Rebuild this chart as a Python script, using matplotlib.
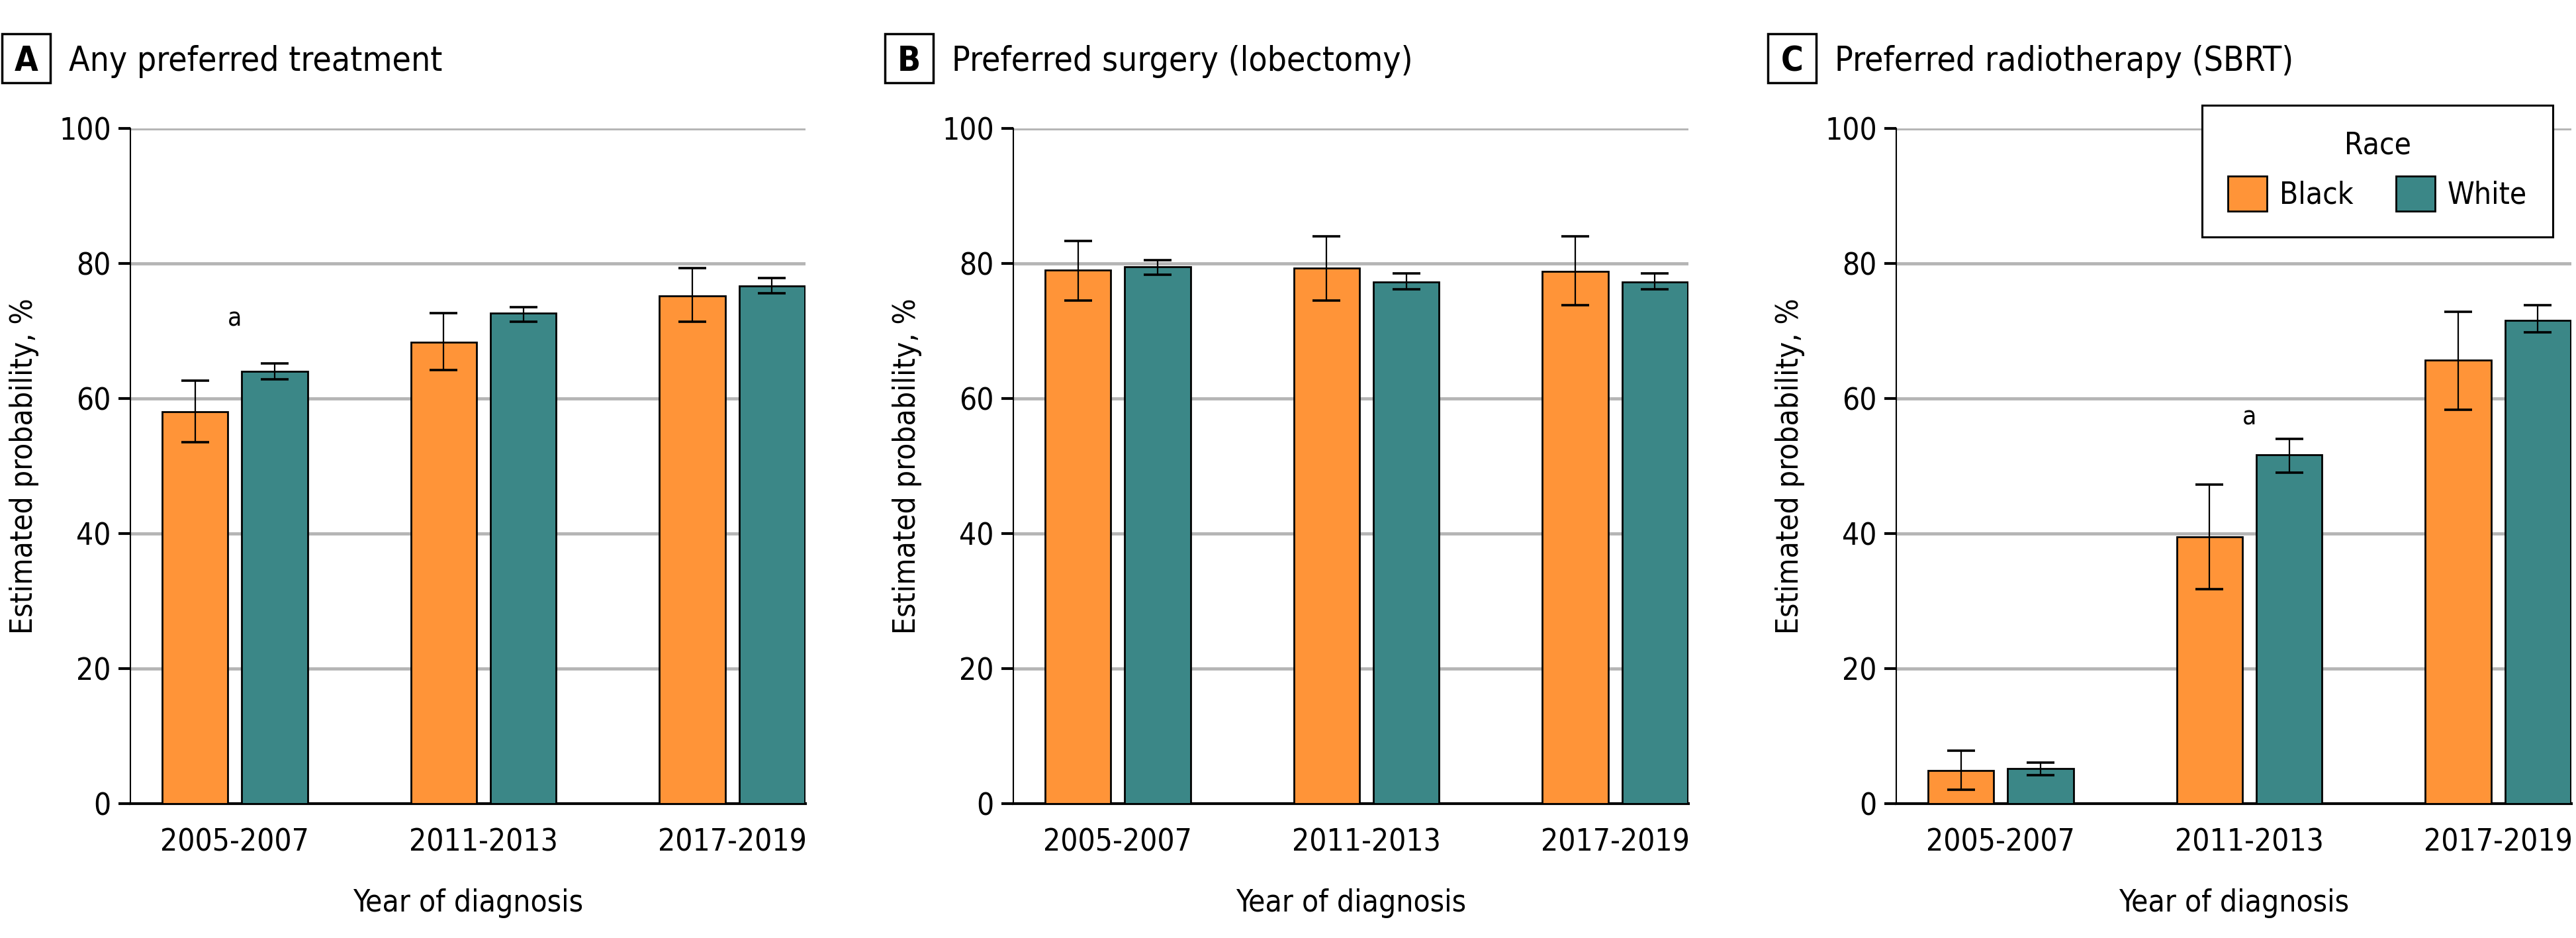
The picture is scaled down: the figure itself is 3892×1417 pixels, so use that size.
import matplotlib.pyplot as plt
from matplotlib.patches import Patch, Rectangle
import numpy as np

plt.rcParams['font.family'] = ['DejaVu Sans']
plt.rcParams['font.stretch'] = 'condensed'

periods = ['2005-2007', '2011-2013', '2017-2019']
letters = ['A', 'B', 'C']
titles = ['Any preferred treatment', 'Preferred surgery (lobectomy)', 'Preferred radiotherapy (SBRT)']

# estimated probability (%) and 95% CI, per panel
black_val = [[58.0, 68.3, 75.2], [79.0, 79.3, 78.8], [4.9, 39.5, 65.7]]
black_lo = [[53.5, 64.2, 71.4], [74.5, 74.5, 73.8], [2.1, 31.8, 58.3]]
black_hi = [[62.6, 72.6, 79.3], [83.3, 84.0, 84.0], [7.8, 47.3, 72.8]]
white_val = [[64.0, 72.6, 76.7], [79.5, 77.3, 77.3], [5.2, 51.7, 71.6]]
white_lo = [[62.8, 71.4, 75.6], [78.3, 76.2, 76.2], [4.2, 49.0, 69.8]]
white_hi = [[65.2, 73.5, 77.8], [80.5, 78.5, 78.5], [6.1, 54.0, 73.8]]

# significance markers: (panel, period index, y)
marks = [(0, 0, 71.8), (2, 1, 57.2)]

orange = '#FF9438'
teal = '#3B8787'

fig = plt.figure(figsize=(38.92, 14.17), dpi=100)
W, H = 3892, 1417
lefts = [197, 1531, 2865]
ax_w = 1020
ax_bottom, ax_top = 1214, 194

fs = 33
x = np.arange(len(periods))
bw = 0.265
off = 0.16

axes = []
for i in range(3):
    ax = fig.add_axes([lefts[i] / W, 1 - ax_bottom / H, ax_w / W, (ax_bottom - ax_top) / H])
    axes.append(ax)
    bv = np.array(black_val[i])
    wv = np.array(white_val[i])
    ax.bar(x - off, bv, bw, color=orange, edgecolor='black', linewidth=2, zorder=3)
    ax.bar(x + off, wv, bw, color=teal, edgecolor='black', linewidth=2, zorder=3)
    ax.errorbar(x - off, bv, yerr=[bv - np.array(black_lo[i]), np.array(black_hi[i]) - bv],
                fmt='none', ecolor='black', elinewidth=1.6, capsize=15, capthick=2.6, zorder=4)
    ax.errorbar(x + off, wv, yerr=[wv - np.array(white_lo[i]), np.array(white_hi[i]) - wv],
                fmt='none', ecolor='black', elinewidth=1.6, capsize=15, capthick=2.6, zorder=4)

    ax.set_xlim(-0.42, 2.295)
    ax.set_ylim(0, 100)
    ax.set_yticks([0, 20, 40, 60, 80, 100])
    ax.set_xticks(x)
    ax.set_xticklabels(periods)
    ax.set_axisbelow(True)
    ax.yaxis.grid(True, color='#b5b5b5', linewidth=3.5)
    for s in ['top', 'right']:
        ax.spines[s].set_visible(False)
    ax.spines['left'].set_linewidth(1.5)
    ax.spines['bottom'].set_linewidth(3)
    ax.tick_params(axis='y', labelsize=fs, length=13, width=3, pad=8)
    ax.tick_params(axis='x', labelsize=fs, length=0, pad=26)
    ax.set_ylabel('Estimated probability, %', fontsize=fs, labelpad=22)
    ax.set_xlabel('Year of diagnosis', fontsize=fs, labelpad=34)

    # panel letter box and title
    bx = (lefts[i] - 194) / W
    fig.add_artist(Rectangle((bx, 1 - 125 / H), 73 / W, 74 / H, transform=fig.transFigure,
                             facecolor='white', edgecolor='black', linewidth=2.5))
    fig.text(bx + 36.5 / W, 1 - 107 / H, letters[i], fontsize=37, fontweight='bold',
             ha='center', va='baseline')
    fig.text((lefts[i] - 93) / W, 1 - 107 / H, titles[i], fontsize=37, ha='left', va='baseline')

for p, k, y in marks:
    axes[p].text(x[k], y, 'a', fontsize=28, ha='center', va='center')

handles = [Patch(facecolor=orange, edgecolor='black', linewidth=2),
           Patch(facecolor=teal, edgecolor='black', linewidth=2)]
leg = axes[2].legend(handles, ['Black', 'White'], title='Race', ncol=2, fontsize=fs,
                     title_fontsize=fs, loc='upper right', bbox_to_anchor=(3857 / W, 1 - 159 / H),
                     bbox_transform=fig.transFigure, borderaxespad=0, frameon=True,
                     fancybox=False, framealpha=1, edgecolor='black', handlelength=1.29,
                     handleheight=1.4, handletextpad=0.41, columnspacing=1.4, borderpad=0.85)
leg.get_frame().set_linewidth(2.2)
leg.set_zorder(10)

fig.savefig('out.png', dpi=100)
